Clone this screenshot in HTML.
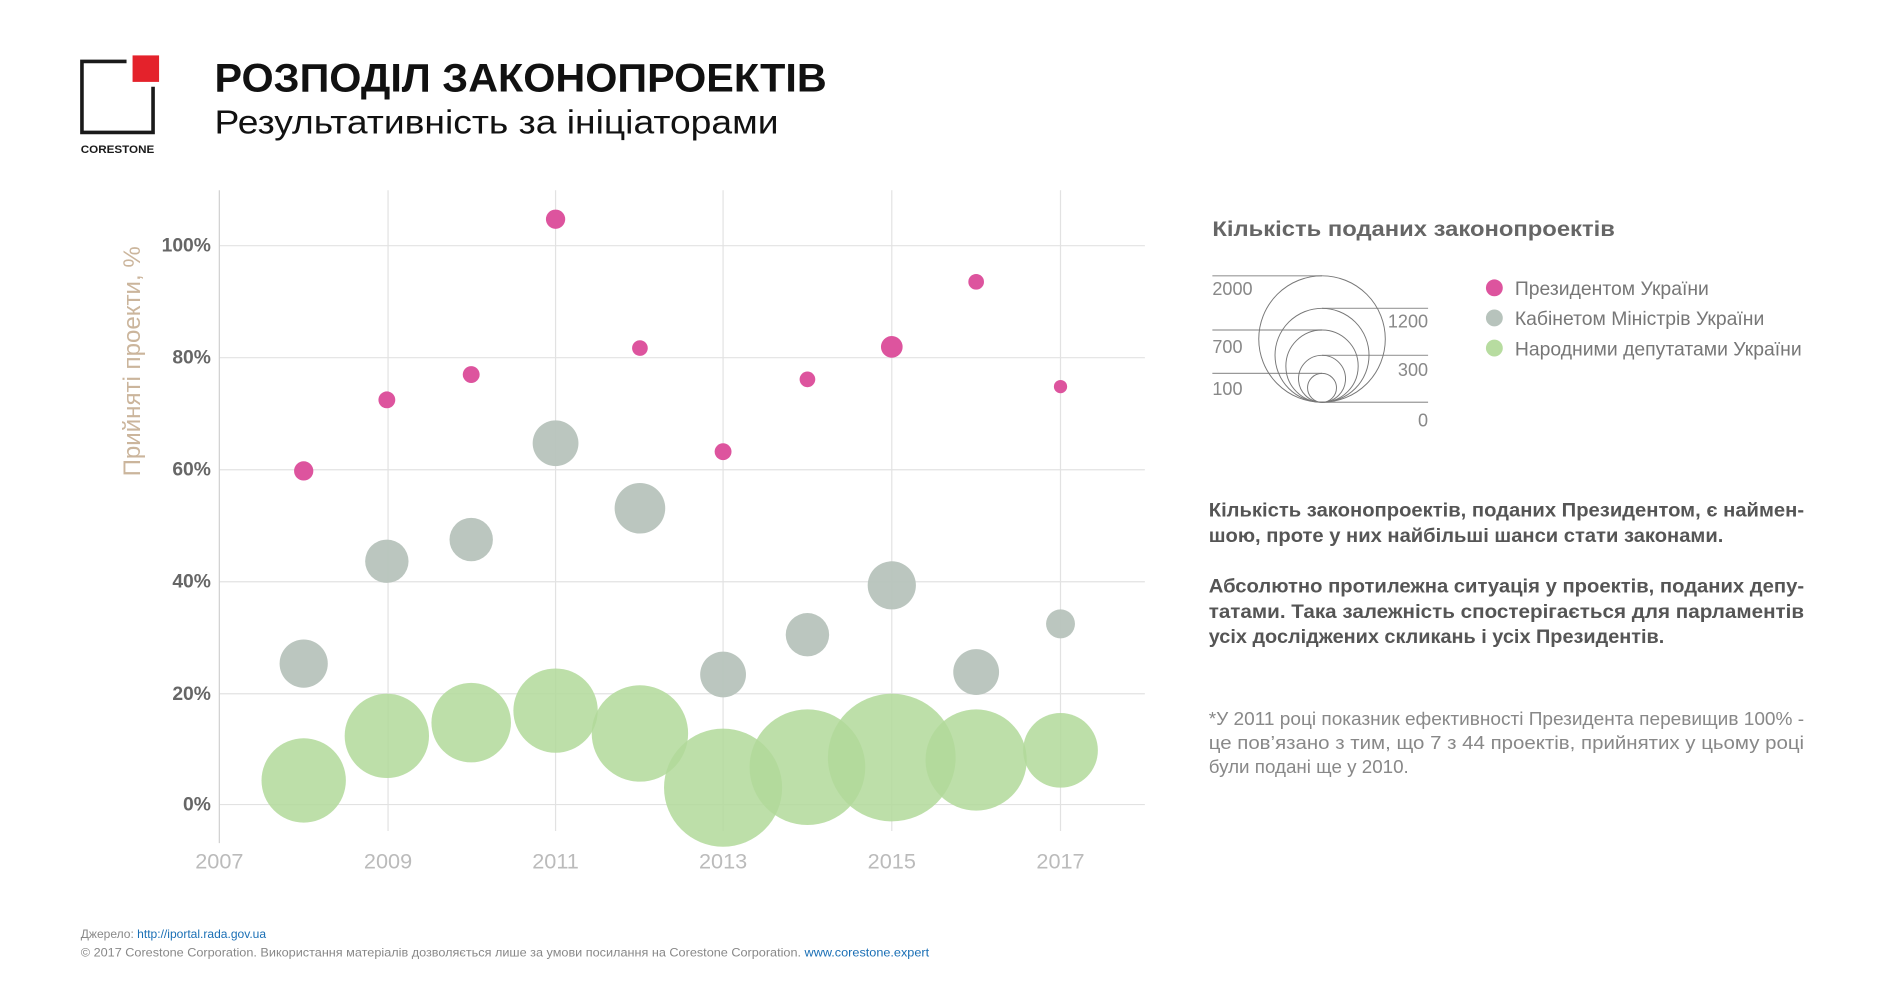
<!DOCTYPE html>
<html><head><meta charset="utf-8">
<style>html,body{margin:0;padding:0;background:#fff;}svg{display:block;}
text{font-family:"Liberation Sans",sans-serif;}</style></head>
<body>
<svg width="1880" height="984" viewBox="0 0 1560 817" preserveAspectRatio="none" xmlns="http://www.w3.org/2000/svg">
<!-- logo -->
<polyline points="105,51 68,51 68,110 127,110 127,72" fill="none" stroke="#1a1a1a" stroke-width="3"/>
<rect x="110" y="46" width="22" height="22" fill="#e4222b"/>
<text x="67" y="127" font-size="9" font-weight="bold" fill="#1a1a1a" textLength="61" lengthAdjust="spacingAndGlyphs">CORESTONE</text>
<text x="178" y="76" font-size="33" font-weight="bold" fill="#111" textLength="508" lengthAdjust="spacingAndGlyphs">РОЗПОДІЛ ЗАКОНОПРОЕКТІВ</text>
<text x="178" y="111" font-size="28" fill="#111" textLength="468" lengthAdjust="spacingAndGlyphs">Результативність за ініціаторами</text>

<!-- grid -->
<g stroke="#e2e2e2" stroke-width="1">
<line x1="322" y1="158" x2="322" y2="690"/><line x1="461" y1="158" x2="461" y2="690"/>
<line x1="600" y1="158" x2="600" y2="690"/><line x1="740" y1="158" x2="740" y2="690"/>
<line x1="880" y1="158" x2="880" y2="690"/>
<line x1="182" y1="204" x2="950" y2="204"/><line x1="182" y1="297" x2="950" y2="297"/>
<line x1="182" y1="390" x2="950" y2="390"/><line x1="182" y1="483" x2="950" y2="483"/>
<line x1="182" y1="576" x2="950" y2="576"/><line x1="182" y1="668" x2="950" y2="668"/>
</g>
<line x1="182" y1="158" x2="182" y2="700" stroke="#d0d0d0"/>
<g font-size="16" font-weight="bold" fill="#666" text-anchor="end">
<text x="175" y="209">100%</text><text x="175" y="302">80%</text><text x="175" y="395">60%</text>
<text x="175" y="488">40%</text><text x="175" y="581">20%</text><text x="175" y="673">0%</text>
</g>
<g font-size="18" fill="#bbb" text-anchor="middle">
<text x="182" y="721">2007</text><text x="322" y="721">2009</text><text x="461" y="721">2011</text>
<text x="600" y="721">2013</text><text x="740" y="721">2015</text><text x="880" y="721">2017</text>
</g>
<text transform="translate(116,300) rotate(-90)" font-size="20" fill="#cbb59c" text-anchor="middle">Прийняті проекти, %</text>

<!-- deputies -->
<g fill="#b2d99a" fill-opacity="0.85">
<circle cx="252" cy="648" r="35"/><circle cx="321" cy="611" r="35"/><circle cx="391" cy="600" r="33"/>
<circle cx="461" cy="590" r="35"/><circle cx="531" cy="609" r="40"/><circle cx="600" cy="654" r="49"/>
<circle cx="670" cy="637" r="48"/><circle cx="740" cy="629" r="53"/><circle cx="810" cy="631" r="42"/>
<circle cx="880" cy="623" r="31"/>
</g>
<!-- cabinet -->
<g fill="#b7c3bc" fill-opacity="0.95">
<circle cx="252" cy="551" r="20"/><circle cx="321" cy="466" r="18"/><circle cx="391" cy="448" r="18"/>
<circle cx="461" cy="368" r="19"/><circle cx="531" cy="422" r="21"/><circle cx="600" cy="560" r="19"/>
<circle cx="670" cy="527" r="18"/><circle cx="740" cy="486" r="20"/><circle cx="810" cy="558" r="19"/>
<circle cx="880" cy="518" r="12"/>
</g>
<!-- president -->
<g fill="#dd549e">
<circle cx="252" cy="391" r="8"/><circle cx="321" cy="332" r="7"/><circle cx="391" cy="311" r="7"/>
<circle cx="461" cy="182" r="8"/><circle cx="531" cy="289" r="6.5"/><circle cx="600" cy="375" r="7"/>
<circle cx="670" cy="315" r="6.5"/><circle cx="740" cy="288" r="9"/><circle cx="810" cy="234" r="6.5"/>
<circle cx="880" cy="321" r="5.5"/>
</g>

<!-- size legend -->
<text x="1006" y="196" font-size="18" font-weight="bold" fill="#666" textLength="334" lengthAdjust="spacingAndGlyphs">Кількість поданих законопроектів</text>
<g stroke="#999" stroke-width="1" fill="none">
<line x1="1006" y1="229" x2="1097" y2="229"/><line x1="1097" y1="256" x2="1185" y2="256"/>
<line x1="1006" y1="274" x2="1097" y2="274"/><line x1="1097" y1="295" x2="1185" y2="295"/>
<line x1="1006" y1="310" x2="1097" y2="310"/><line x1="1097" y1="334" x2="1185" y2="334"/>
</g>
<g stroke="#777" stroke-width="0.8" fill="none">
<circle cx="1097" cy="281.5" r="52.5"/><circle cx="1097" cy="295" r="39"/><circle cx="1097" cy="304" r="30"/>
<circle cx="1097" cy="314.5" r="19.5"/><circle cx="1097" cy="322" r="12"/>
</g>
<g font-size="15" fill="#888">
<text x="1006" y="245">2000</text><text x="1006" y="293">700</text><text x="1006" y="328">100</text>
<text x="1185" y="272" text-anchor="end">1200</text><text x="1185" y="312" text-anchor="end">300</text>
<text x="1185" y="354" text-anchor="end">0</text>
</g>
<circle cx="1240" cy="239" r="7" fill="#dd549e"/><circle cx="1240" cy="264" r="7" fill="#b7c3bc"/><circle cx="1240" cy="289" r="7" fill="#b7dca0"/>
<g font-size="16" fill="#777">
<text x="1257" y="245" textLength="161" lengthAdjust="spacingAndGlyphs">Президентом України</text>
<text x="1257" y="270" textLength="207" lengthAdjust="spacingAndGlyphs">Кабінетом Міністрів України</text>
<text x="1257" y="295" textLength="238" lengthAdjust="spacingAndGlyphs">Народними депутатами України</text>
</g>

<!-- paragraphs -->
<g font-size="16" font-weight="bold" fill="#555">
<text x="1003" y="429" textLength="494" lengthAdjust="spacingAndGlyphs">Кількість законопроектів, поданих Президентом, є наймен-</text>
<text x="1003" y="450" textLength="427" lengthAdjust="spacingAndGlyphs">шою, проте у них найбільші шанси стати законами.</text>
<text x="1003" y="492" textLength="494" lengthAdjust="spacingAndGlyphs">Абсолютно протилежна ситуація у проектів, поданих депу-</text>
<text x="1003" y="513" textLength="494" lengthAdjust="spacingAndGlyphs">татами. Така залежність спостерігається для парламентів</text>
<text x="1003" y="534" textLength="378" lengthAdjust="spacingAndGlyphs">усіх досліджених скликань і усіх Президентів.</text>
</g>
<g font-size="15" fill="#888">
<text x="1003" y="602" textLength="494" lengthAdjust="spacingAndGlyphs">*У 2011 році показник ефективності Президента перевищив 100% -</text>
<text x="1003" y="622" textLength="494" lengthAdjust="spacingAndGlyphs">це пов’язано з тим, що 7 з 44 проектів, прийнятих у цьому році</text>
<text x="1003" y="642" textLength="166" lengthAdjust="spacingAndGlyphs">були подані ще у 2010.</text>
</g>

<!-- footer -->
<text x="67" y="779" font-size="10" fill="#888">Джерело: <tspan fill="#1a6fb5">http://iportal.rada.gov.ua</tspan></text>
<text x="67" y="794" font-size="10" fill="#888" textLength="704" lengthAdjust="spacingAndGlyphs">© 2017 Corestone Corporation. Використання матеріалів дозволяється лише за умови посилання на Corestone Corporation. <tspan fill="#1a6fb5">www.corestone.expert</tspan></text>
</svg>
</body></html>
